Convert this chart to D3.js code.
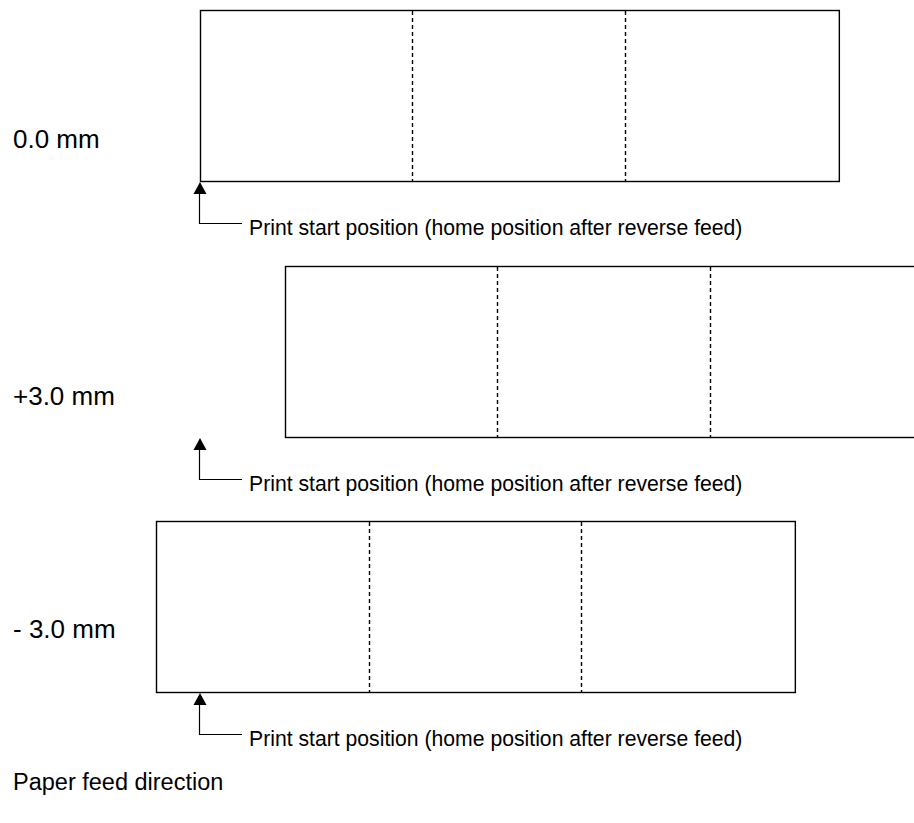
<!DOCTYPE html>
<html>
<head>
<meta charset="utf-8">
<script src="https://cdn.jsdelivr.net/npm/d3@7/dist/d3.min.js"></script>
<style>
html,body{margin:0;padding:0;background:#fff;}
svg{display:block;}
text{font-family:"Liberation Sans",Arial,sans-serif;fill:#000;}
</style>
</head>
<body>
<svg id="chart" width="914" height="823"></svg>
<script>
// Data
const rowLabels = ["0.0 mm", "+3.0 mm", "- 3.0 mm"];
const stripStartMm = [0, 3.0, -1.55];       // left edge of each paper strip (mm)
const stripLengthMm = [22.55, 22.55, 22.55]; // strip length (mm)
const cutMarksMm = [7.5, 15.0];             // perforation marks, relative to strip start (mm)
const noteText = "Print start position (home position after reverse feed)";
const footerText = "Paper feed direction";

const svg = d3.select("#chart");

// Scales
const x = d3.scaleLinear().domain([0, 1]).range([200, 228.33]);
const rowY = d3.scaleLinear().domain([0, 1]).range([10, 265.5]);
const stripH = 171;

const rows = rowLabels.map((lab, i) => ({
  label: lab,
  start: stripStartMm[i],
  len: stripLengthMm[i],
  i
}));

const g = svg.append("g");

const row = g.selectAll("g.row").data(rows).enter().append("g").attr("class", "row");

// strip rectangles
row.append("rect")
  .attr("x", d => Math.round(x(d.start)) + 0.5)
  .attr("y", d => Math.round(rowY(d.i)) + 0.5)
  .attr("width", d => x(d.start + d.len) - x(d.start))
  .attr("height", stripH)
  .attr("fill", "none")
  .attr("stroke", "#000")
  .attr("stroke-width", 1.4);

// perforation marks
row.selectAll("line.cut").data(d => cutMarksMm.map(c => ({c, d}))).enter()
  .append("line").attr("class", "cut")
  .attr("x1", o => Math.round(x(o.d.start + o.c)) + 0.5)
  .attr("x2", o => Math.round(x(o.d.start + o.c)) + 0.5)
  .attr("y1", o => Math.round(rowY(o.d.i)) + 1)
  .attr("y2", o => Math.round(rowY(o.d.i)) + stripH)
  .attr("stroke", "#000")
  .attr("stroke-width", 1.4)
  .attr("stroke-dasharray", "4,3");

// row labels
const labelBaseline = [148, 405, 638];
row.append("text")
  .attr("x", 13)
  .attr("y", d => labelBaseline[d.i])
  .attr("font-size", 26)
  .text(d => d.label);

// print start arrows
const ax = x(0);
row.each(function(d) {
  const sel = d3.select(this);
  const tipY = Math.round(rowY(d.i)) + stripH + 1;
  const baseY = tipY + 12;
  const elbowY = tipY + 41;
  sel.append("path")
    .attr("d", `M${ax},${tipY} L${ax - 6.5},${baseY} L${ax + 6.5},${baseY} Z`)
    .attr("fill", "#000");
  sel.append("path")
    .attr("d", `M${ax - 0.5},${baseY} V${elbowY + 0.5} H242`)
    .attr("fill", "none")
    .attr("stroke", "#000")
    .attr("stroke-width", 1.2);
  sel.append("text")
    .attr("x", 249)
    .attr("y", elbowY + 12)
    .attr("font-size", 21.2)
    .text(noteText);
});

// footer
g.append("text")
  .attr("x", 13)
  .attr("y", 790)
  .attr("font-size", 23.5)
  .text(footerText);
</script>
</body>
</html>
